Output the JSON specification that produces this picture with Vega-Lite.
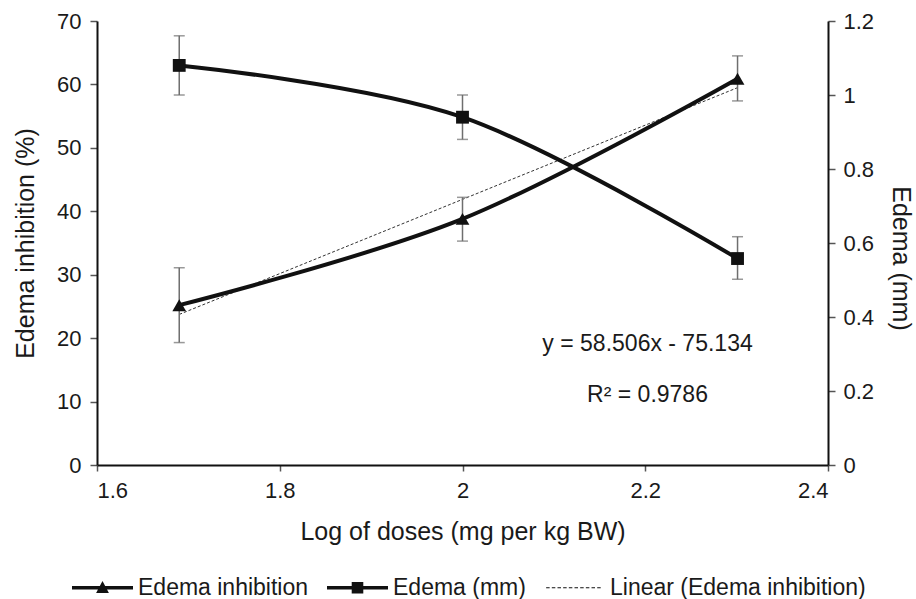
{
  "$schema": "https://vega.github.io/schema/vega-lite/v6.json",
  "width": 731,
  "height": 444,
  "autosize": {"type": "none"},
  "padding": {"left": 97, "top": 21, "right": 88, "bottom": 134},
  "background": "white",
  "config": {
    "view": {"stroke": null},
    "font": "Liberation Sans",
    "axis": {
      "grid": false,
      "domainColor": "#111111",
      "domainWidth": 2,
      "tickColor": "#555555",
      "tickWidth": 1.5,
      "tickSize": 7,
      "labelFontSize": 22,
      "labelColor": "#1a1a1a",
      "labelPadding": 9,
      "titleFontSize": 25,
      "titleFontWeight": "normal",
      "titleColor": "#1a1a1a"
    }
  },
  "datasets": {
    "inhib": [
      {"dose": 1.69, "pct": 25.2, "lo": 19.3, "hi": 31.1},
      {"dose": 2.0, "pct": 38.8, "lo": 35.3, "hi": 42.2},
      {"dose": 2.301, "pct": 60.9, "lo": 57.4, "hi": 64.5}
    ],
    "edema": [
      {"dose": 1.69, "mm": 1.08, "lo": 1.0, "hi": 1.16},
      {"dose": 2.0, "mm": 0.94, "lo": 0.88, "hi": 1.0},
      {"dose": 2.301, "mm": 0.558, "lo": 0.502, "hi": 0.617}
    ],
    "trend": [
      {"dose": 1.69, "pct": 23.74},
      {"dose": 2.301, "pct": 59.49}
    ],
    "notes": [
      {"label": "y = 58.506x - 75.134"},
      {"label": "R² = 0.9786"}
    ],
    "legend": [
      {"series": "Edema inhibition"},
      {"series": "Edema (mm)"},
      {"series": "Linear (Edema inhibition)"}
    ]
  },
  "layer": [
    {
      "layer": [
        {
          "data": {"name": "trend"},
          "mark": {"type": "line", "strokeDash": [3, 2], "strokeWidth": 1, "color": "#333333"},
          "encoding": {
            "x": {
              "field": "dose",
              "type": "quantitative",
              "scale": {"domain": [1.6, 2.4], "nice": false, "zero": false},
              "axis": {
                "values": [1.6, 1.8, 2, 2.2, 2.4],
                "format": "~g",
                "title": "Log of doses (mg per kg BW)",
                "tickSize": 6,
                "labelPadding": 9,
                "titlePadding": 18
              }
            },
            "y": {
              "field": "pct",
              "type": "quantitative",
              "scale": {"domain": [0, 70], "nice": false},
              "axis": {
                "orient": "left",
                "values": [0, 10, 20, 30, 40, 50, 60, 70],
                "title": "Edema inhibition (%)",
                "titlePadding": 18
              }
            }
          }
        },
        {
          "data": {"name": "inhib"},
          "mark": {"type": "rule", "color": "#6e6e6e", "strokeWidth": 1.5},
          "encoding": {
            "x": {"field": "dose", "type": "quantitative"},
            "y": {"field": "lo", "type": "quantitative"},
            "y2": {"field": "hi"}
          }
        },
        {
          "data": {"name": "inhib"},
          "mark": {"type": "tick", "orient": "horizontal", "size": 11, "thickness": 1.5, "color": "#6e6e6e"},
          "encoding": {
            "x": {"field": "dose", "type": "quantitative"},
            "y": {"field": "lo", "type": "quantitative"}
          }
        },
        {
          "data": {"name": "inhib"},
          "mark": {"type": "tick", "orient": "horizontal", "size": 11, "thickness": 1.5, "color": "#6e6e6e"},
          "encoding": {
            "x": {"field": "dose", "type": "quantitative"},
            "y": {"field": "hi", "type": "quantitative"}
          }
        },
        {
          "data": {"name": "inhib"},
          "mark": {"type": "line", "interpolate": "cardinal", "strokeWidth": 4, "color": "#111111"},
          "encoding": {
            "x": {"field": "dose", "type": "quantitative"},
            "y": {"field": "pct", "type": "quantitative"}
          }
        },
        {
          "data": {"name": "inhib"},
          "mark": {"type": "point", "shape": "triangle-up", "filled": true, "size": 190, "color": "#111111", "opacity": 1},
          "encoding": {
            "x": {"field": "dose", "type": "quantitative"},
            "y": {"field": "pct", "type": "quantitative"}
          }
        },
        {
          "data": {"name": "notes"},
          "transform": [{"filter": "datum.label == 'y = 58.506x - 75.134'"}],
          "mark": {"type": "text", "fontSize": 23, "fill": "#1a1a1a", "align": "center", "baseline": "middle"},
          "encoding": {
            "x": {"datum": 2.2025, "type": "quantitative"},
            "y": {"datum": 19.0, "type": "quantitative"},
            "text": {"field": "label", "type": "nominal"}
          }
        },
        {
          "data": {"name": "notes"},
          "transform": [{"filter": "datum.label != 'y = 58.506x - 75.134'"}],
          "mark": {"type": "text", "fontSize": 23, "fill": "#1a1a1a", "align": "center", "baseline": "middle"},
          "encoding": {
            "x": {"datum": 2.2025, "type": "quantitative"},
            "y": {"datum": 11.0, "type": "quantitative"},
            "text": {"field": "label", "type": "nominal"}
          }
        },
        {
          "data": {"name": "legend"},
          "mark": {"type": "point", "filled": true, "clip": true, "color": "#111111", "opacity": 1},
          "encoding": {
            "x": {"datum": 1.0, "type": "quantitative"},
            "y": {"datum": 0, "type": "quantitative"},
            "shape": {
              "field": "series",
              "type": "nominal",
              "scale": {
                "domain": ["Edema inhibition", "Edema (mm)", "Linear (Edema inhibition)"],
                "range": [
                  "M-1,-0.06H1V0.06H-1Z M0,-0.22L0.21,0.17L-0.21,0.17Z",
                  "M-1,-0.06H1V0.06H-1Z M-0.19,-0.19H0.19V0.19H-0.19Z",
                  "M-0.93,-0.017H-0.815V0.017H-0.93Z M-0.744,-0.017H-0.629V0.017H-0.744Z M-0.558,-0.017H-0.443V0.017H-0.558Z M-0.372,-0.017H-0.257V0.017H-0.372Z M-0.186,-0.017H-0.071V0.017H-0.186Z M0,-0.017H0.115V0.017H0Z M0.186,-0.017H0.301V0.017H0.186Z M0.372,-0.017H0.487V0.017H0.372Z M0.558,-0.017H0.673V0.017H0.558Z M0.744,-0.017H0.859V0.017H0.744Z"
                ]
              },
              "legend": {
                "title": null,
                "orient": "none",
                "legendX": -25,
                "legendY": 536,
                "direction": "horizontal",
                "columns": 3,
                "symbolSize": 3721,
                "symbolFillColor": "#111111",
                "symbolStrokeWidth": 0,
                "symbolStrokeColor": "transparent",
                "symbolOpacity": 1,
                "labelFontSize": 23,
                "labelColor": "#1a1a1a",
                "labelOffset": 5,
                "labelLimit": 400,
                "columnPadding": 18,
                "padding": 0
              }
            }
          }
        }
      ]
    },
    {
      "layer": [
        {
          "data": {"name": "edema"},
          "mark": {"type": "rule", "color": "#6e6e6e", "strokeWidth": 1.5},
          "encoding": {
            "x": {"field": "dose", "type": "quantitative"},
            "y": {
              "field": "lo",
              "type": "quantitative",
              "scale": {"domain": [0, 1.2], "nice": false},
              "axis": {
                "orient": "right",
                "values": [0, 0.2, 0.4, 0.6, 0.8, 1, 1.2],
                "format": "~g",
                "title": "Edema (mm)",
                "labelPadding": 8,
                "titlePadding": 14,
                "titleY": 237
              }
            },
            "y2": {"field": "hi"}
          }
        },
        {
          "data": {"name": "edema"},
          "mark": {"type": "tick", "orient": "horizontal", "size": 11, "thickness": 1.5, "color": "#6e6e6e"},
          "encoding": {
            "x": {"field": "dose", "type": "quantitative"},
            "y": {"field": "lo", "type": "quantitative"}
          }
        },
        {
          "data": {"name": "edema"},
          "mark": {"type": "tick", "orient": "horizontal", "size": 11, "thickness": 1.5, "color": "#6e6e6e"},
          "encoding": {
            "x": {"field": "dose", "type": "quantitative"},
            "y": {"field": "hi", "type": "quantitative"}
          }
        },
        {
          "data": {"name": "edema"},
          "mark": {"type": "line", "interpolate": "cardinal", "strokeWidth": 4, "color": "#111111"},
          "encoding": {
            "x": {"field": "dose", "type": "quantitative"},
            "y": {"field": "mm", "type": "quantitative"}
          }
        },
        {
          "data": {"name": "edema"},
          "mark": {"type": "point", "shape": "square", "filled": true, "size": 165, "color": "#111111", "opacity": 1},
          "encoding": {
            "x": {"field": "dose", "type": "quantitative"},
            "y": {"field": "mm", "type": "quantitative"}
          }
        }
      ]
    }
  ],
  "resolve": {"scale": {"y": "independent"}}
}
